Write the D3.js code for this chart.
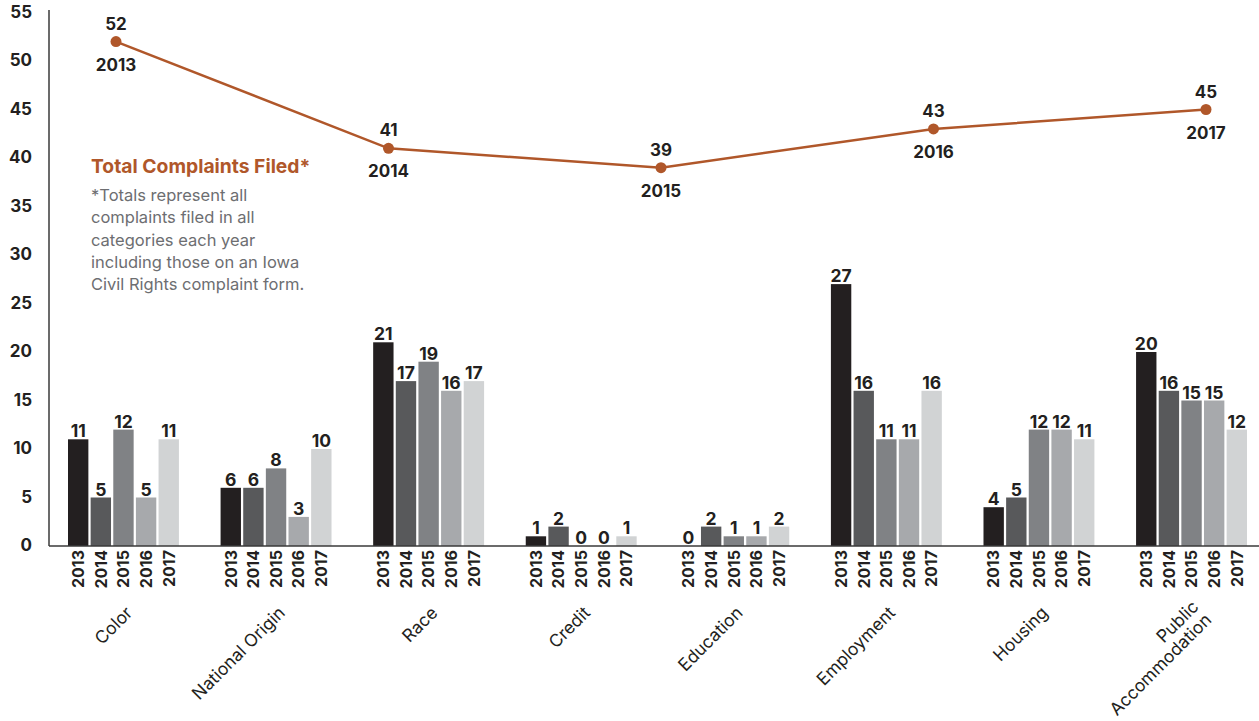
<!DOCTYPE html>
<html lang="en">
  <head>
    <meta charset="UTF-8" />
    <title>Complaints Filed</title>
    <script src="https://d3js.org/d3.v7.min.js"></script>
    <style>
      body {
        margin: 0;
        background: #fff;
        font-family: Inter, "Open Sans", sans-serif;
      }
      .num {
        font-weight: 700;
        fill: #231f20;
      }
    </style>
  </head>
  <body>
    <div id="chart"></div>
    <script>
      // data
      const categories = [
        "Color",
        "National Origin",
        "Race",
        "Credit",
        "Education",
        "Employment",
        "Housing",
        "Public Accommodation",
      ];
      const years = ["2013", "2014", "2015", "2016", "2017"];
      const counts = [
        [11, 5, 12, 5, 11],
        [6, 6, 8, 3, 10],
        [21, 17, 19, 16, 17],
        [1, 2, 0, 0, 1],
        [0, 2, 1, 1, 2],
        [27, 16, 11, 11, 16],
        [4, 5, 12, 12, 11],
        [20, 16, 15, 15, 12],
      ];
      const totals = [52, 41, 39, 43, 45];
      const yTicks = [0, 5, 10, 15, 20, 25, 30, 35, 40, 45, 50, 55];
      const noteLines = [
        "*Totals represent all",
        "complaints filed in all",
        "categories each year",
        "including those on an Iowa",
        "Civil Rights complaint form.",
      ];

      const width = 1259;
      const height = 721;
      const barColors = ["#231f20", "#58595b", "#808285", "#a7a9ac", "#d1d3d4"];
      const lineColor = "#b0572a";

      const svg = d3
        .select("#chart")
        .append("svg")
        .attr("width", width)
        .attr("height", height);

      const y = d3.scaleLinear().domain([0, 55]).range([546, 12.5]);

      const x0 = d3
        .scaleBand()
        .domain(categories)
        .range([68, 1247])
        .paddingInner(0.273)
        .paddingOuter(0);

      const x1 = d3
        .scaleBand()
        .domain(years)
        .range([0, x0.bandwidth()])
        .paddingInner(0.1);

      const color = d3.scaleOrdinal().domain(years).range(barColors);

      // y axis
      svg
        .append("line")
        .attr("x1", 49)
        .attr("x2", 49)
        .attr("y1", 10)
        .attr("y2", y(0))
        .attr("stroke", "#3a3a3a")
        .attr("stroke-width", 1.5);

      svg
        .selectAll(".ytick")
        .data(yTicks)
        .enter()
        .append("text")
        .attr("class", "num")
        .attr("x", 32)
        .attr("y", (d) => y(d) - 1)
        .attr("dy", "0.36em")
        .attr("text-anchor", "end")
        .attr("font-size", 17)
        .text((d) => d);

      // bars
      const groups = svg
        .selectAll(".cat")
        .data(categories)
        .enter()
        .append("g")
        .attr("class", "cat")
        .attr("transform", (d) => `translate(${x0(d)},0)`);

      const cells = groups
        .selectAll(".cell")
        .data((d, i) => years.map((yr, j) => ({ year: yr, value: counts[i][j] })))
        .enter()
        .append("g")
        .attr("class", "cell");

      cells
        .append("rect")
        .attr("x", (d) => x1(d.year))
        .attr("width", x1.bandwidth())
        .attr("y", (d) => y(d.value))
        .attr("height", (d) => y(0) - y(d.value))
        .attr("fill", (d) => color(d.year));

      cells
        .append("text")
        .attr("class", "num")
        .attr("x", (d) => x1(d.year) + x1.bandwidth() / 2)
        .attr("y", (d) => y(d.value) - 2)
        .attr("text-anchor", "middle")
        .attr("font-size", 17.5)
        .text((d) => d.value);

      // year labels under each bar
      cells
        .append("text")
        .attr("class", "num")
        .attr(
          "transform",
          (d) => `translate(${x1(d.year) + x1.bandwidth() / 2},550) rotate(-90)`
        )
        .attr("dy", "0.36em")
        .attr("text-anchor", "end")
        .attr("font-size", 16)
        .text((d) => d.year);

      // category labels
      groups
        .append("text")
        .attr("transform", (d) =>
          d === "Public Accommodation"
            ? `translate(${x0.bandwidth() / 2 + 8},608) rotate(-45)`
            : `translate(${x0.bandwidth() / 2 + 10},614) rotate(-45)`
        )
        .attr("text-anchor", "end")
        .attr("font-size", 17.5)
        .attr("fill", "#231f20")
        .each(function (d) {
          const words = d === "Public Accommodation" ? ["Public", "Accommodation"] : [d];
          const t = d3.select(this);
          words.forEach((w, k) => {
            t.append("tspan")
              .attr("x", 0)
              .attr("dy", k === 0 ? 0 : "1.05em")
              .text(w);
          });
        });

      // baseline
      svg
        .append("line")
        .attr("x1", 49)
        .attr("x2", width)
        .attr("y1", y(0))
        .attr("y2", y(0))
        .attr("stroke", "#3a3a3a")
        .attr("stroke-width", 1.5);

      // totals line
      const xl = d3.scalePoint().domain(years).range([116, 1206]);

      svg
        .append("path")
        .datum(totals)
        .attr("fill", "none")
        .attr("stroke", lineColor)
        .attr("stroke-width", 2.5)
        .attr(
          "d",
          d3
            .line()
            .x((d, i) => xl(years[i]))
            .y((d) => y(d))
        );

      const pts = svg
        .selectAll(".pt")
        .data(totals)
        .enter()
        .append("g")
        .attr("class", "pt")
        .attr("transform", (d, i) => `translate(${xl(years[i])},${y(d)})`);

      pts.append("circle").attr("r", 5.5).attr("fill", lineColor);

      pts
        .append("text")
        .attr("class", "num")
        .attr("y", -12)
        .attr("text-anchor", "middle")
        .attr("font-size", 17)
        .text((d) => d);

      pts
        .append("text")
        .attr("class", "num")
        .attr("y", 29)
        .attr("text-anchor", "middle")
        .attr("font-size", 17)
        .text((d, i) => years[i]);

      // annotation
      svg
        .append("text")
        .attr("x", 91)
        .attr("y", 173)
        .attr("font-size", 19.3)
        .attr("font-weight", 700)
        .attr("fill", lineColor)
        .text("Total Complaints Filed*");

      svg
        .append("text")
        .attr("font-size", 16.5)
        .attr("fill", "#6d6e71")
        .selectAll("tspan")
        .data(noteLines)
        .enter()
        .append("tspan")
        .attr("x", 91)
        .attr("y", (d, i) => 201 + i * 22.3)
        .text((d) => d);
    </script>
  </body>
</html>
